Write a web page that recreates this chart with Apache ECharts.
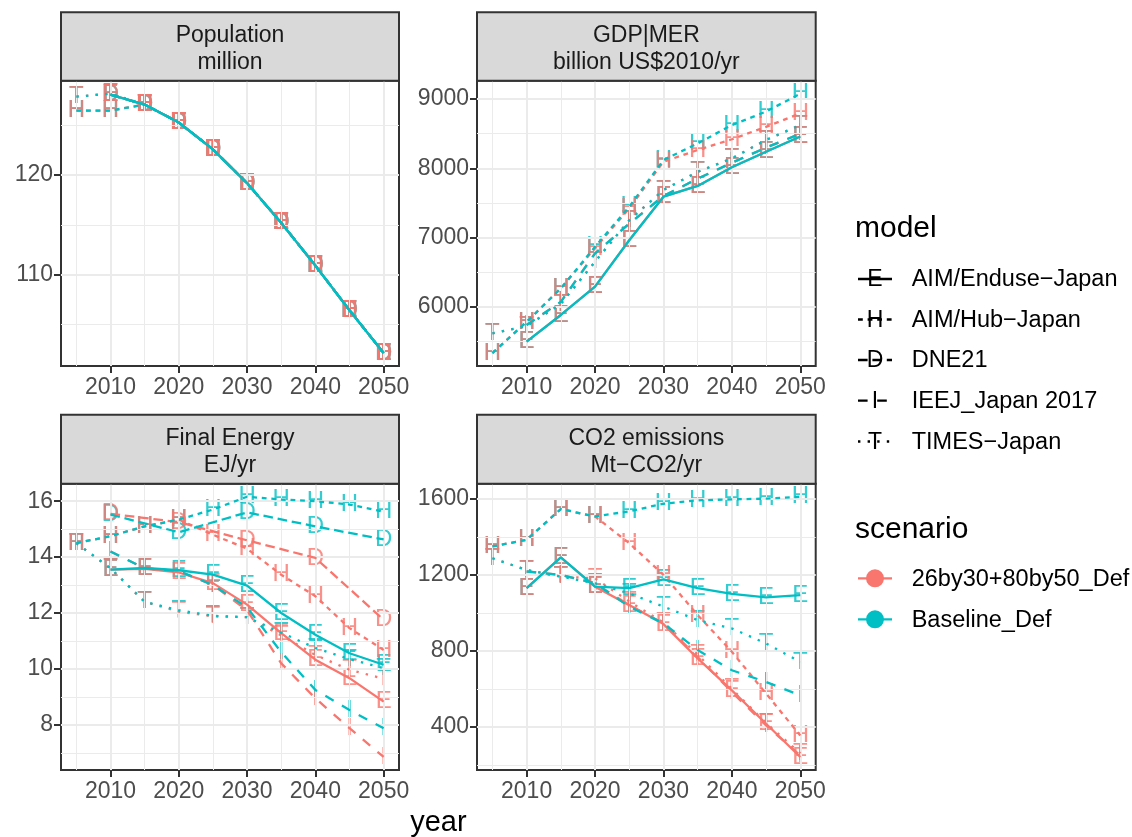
<!DOCTYPE html>
<html>
<head>
<meta charset="utf-8">
<script src="https://cdn.jsdelivr.net/npm/echarts@6/dist/echarts.min.js"></script>
<style>html,body{margin:0;padding:0;background:#fff}#chart{width:1132px;height:837px}</style>
</head>
<body>
<div id="chart"></div>
<script>
// ---- data ----------------------------------------------------------------
var years = [2005, 2010, 2015, 2020, 2025, 2030, 2035, 2040, 2045, 2050];
var models = ['AIM/Enduse\u2212Japan', 'AIM/Hub\u2212Japan', 'DNE21', 'IEEJ_Japan 2017', 'TIMES\u2212Japan'];
var letters = ['E', 'H', 'D', 'I', 'T'];
var scenarios = ['26by30+80by50_Def', 'Baseline_Def'];

// Population (million): [policy, baseline]
var popPolE  = [null, 128.1, 127.1, 125.3, 122.6, 119.2, 115.2, 110.9, 106.4, 102.1];
var popBaseE = [null, 128.1, 127.1, 125.3, 122.6, 119.2, 115.2, 110.9, 106.4, 102.1];
var popPolH  = [126.5, 126.5, 127.1, 125.3, 122.6, 119.2, 115.2, 110.9, 106.4, 102.1];
var popBaseH = [126.5, 126.5, 127.1, 125.3, 122.6, 119.2, 115.2, 110.9, 106.4, 102.1];
var popPolD  = [null, 128.1, 127.1, 125.3, 122.6, 119.2, 115.2, 110.9, 106.4, 102.1];
var popBaseD = [null, 128.1, 127.1, 125.3, 122.6, 119.2, 115.2, 110.9, 106.4, 102.1];
var popPolI  = [null, 128.1, 127.1, 125.3, 122.6, 119.2, 115.2, 110.9, 106.4, 102.1];
var popBaseI = [null, 128.1, 127.1, 125.3, 122.6, 119.2, 115.2, 110.9, 106.4, 102.1];
var popPolT  = [127.9, 128.2, 127.1, 125.3, 122.6, 119.2, 115.2, 110.9, 106.4, 102.1];
var popBaseT = [127.9, 128.2, 127.1, 125.3, 122.6, 119.2, 115.2, 110.9, 106.4, 102.1];

// GDP|MER (billion US$2010/yr)
var gdpPolE  = [null, 5495, 5880, 6290, 6960, 7590, 7745, 8015, 8240, 8460];
var gdpBaseE = [null, 5495, 5880, 6290, 6960, 7590, 7745, 8015, 8240, 8460];
var gdpPolH  = [5330, 5780, 6265, 6845, 7420, 8095, 8265, 8420, 8600, 8795];
var gdpBaseH = [5330, 5780, 6265, 6865, 7445, 8120, 8360, 8625, 8820, 9079];
var gdpPolI  = [null, 5735, 6070, 6770, 7200, 7600, 7850, 8080, 8300, 8500];
var gdpBaseI = [null, 5735, 6070, 6770, 7200, 7600, 7850, 8080, 8300, 8500];
var gdpPolT  = [5615, 5720, 6040, 6650, 7250, 7686, 7950, 8143, 8410, 8625];
var gdpBaseT = [5615, 5720, 6040, 6650, 7250, 7686, 7950, 8143, 8410, 8625];

// Final Energy (EJ/yr)
var fePolE  = [null, 13.55, 13.58, 13.45, 13.07, 12.3, 11.28, 10.33, 9.67, 8.83];
var feBaseE = [null, 13.55, 13.61, 13.53, 13.37, 12.98, 12.0, 11.22, 10.56, 10.15];
var fePolH  = [14.5, 14.75, 15.1, 15.34, 14.8, 14.3, 13.37, 12.6, 11.46, 10.68];
var feBaseH = [14.5, 14.75, 15.1, 15.34, 15.7, 16.16, 16.06, 16.0, 15.88, 15.62];
var fePolD  = [null, 15.55, null, 15.25, null, 14.6, null, 13.97, null, 11.76];
var feBaseD = [null, 15.52, null, 14.89, null, 15.6, null, 15.1, null, 14.63];
var fePolI  = [null, 14.2, 13.6, 13.5, 13.0, 12.1, 10.2, 8.95, 7.88, 6.85];
var feBaseI = [null, 14.2, 13.6, 13.5, 13.0, 12.2, 10.6, 9.25, 8.53, 7.88];
var fePolT  = [14.5, 13.6, 12.4, 12.05, 11.88, 11.85, 11.2, 10.5, 9.97, 9.65];
var feBaseT = [14.5, 13.6, 12.4, 12.1, 11.9, 11.85, 11.3, 10.75, 10.35, 10.03];

// CO2 emissions (Mt-CO2/yr)
var co2PolE  = [null, 1130, 1293, 1138, 1041, 941, 760, 592, 416, 241];
var co2BaseE = [null, 1130, 1293, 1138, 1130, 1177, 1130, 1100, 1082, 1094];
var co2PolH  = [1350, 1385, 1547, 1508, 1367, 1200, 989, 795, 575, 354];
var co2BaseH = [1350, 1385, 1547, 1508, 1535, 1575, 1593, 1598, 1602, 1612];
var co2PolI  = [null, 1218, 1200, 1156, 1040, 945, 768, 583, 407, 249];
var co2BaseI = [null, 1218, 1200, 1156, 1033, 945, 804, 698, 636, 566];
var co2PolT  = [1288, 1226, 1191, 1182, 1060, 950, 780, 600, 420, 260];
var co2BaseT = [1288, 1226, 1191, 1156, 1103, 1033, 962, 918, 839, 742];

// tick labels / gridlines
var xMajor = [2010, 2020, 2030, 2040, 2050];
var xMinor = [2005, 2015, 2025, 2035, 2045];
var popTicks = [110, 120],              popMinor = [105, 115, 125];
var gdpTicks = [6000, 7000, 8000, 9000], gdpMinor = [5500, 6500, 7500, 8500];
var feTicks  = [8, 10, 12, 14, 16],     feMinor  = [7, 9, 11, 13, 15];
var co2Ticks = [400, 800, 1200, 1600],  co2Minor = [200, 600, 1000, 1400];

// ---- styling ---------------------------------------------------------------
var FONT = 'Liberation Sans, Arial, sans-serif';
var colors = ['#F8766D', '#00BFC4'];
var U = 2.4;
var dashes = ['solid', [2 * U, 2 * U], [4 * U, 2 * U], [4 * U, 4 * U], [1 * U, 3 * U]];

var panels = [
  { strip: 'Population\nmillion', ticks: popTicks, minor: popMinor,
    rows: [[popPolE, popBaseE], [popPolH, popBaseH], [popPolD, popBaseD], [popPolI, popBaseI], [popPolT, popBaseT]],
    box: { left: 61, top: 80.7, width: 338, height: 285.3 }, stripTop: 12.3 },
  { strip: 'GDP|MER\nbillion US$2010/yr', ticks: gdpTicks, minor: gdpMinor,
    rows: [[gdpPolE, gdpBaseE], [gdpPolH, gdpBaseH], null, [gdpPolI, gdpBaseI], [gdpPolT, gdpBaseT]],
    box: { left: 477, top: 80.7, width: 338.7, height: 285.3 }, stripTop: 12.3 },
  { strip: 'Final Energy\nEJ/yr', ticks: feTicks, minor: feMinor,
    rows: [[fePolE, feBaseE], [fePolH, feBaseH], [fePolD, feBaseD], [fePolI, feBaseI], [fePolT, feBaseT]],
    box: { left: 61, top: 483.7, width: 338, height: 286.3 }, stripTop: 414.7 },
  { strip: 'CO2 emissions\nMt\u2212CO2/yr', ticks: co2Ticks, minor: co2Minor,
    rows: [[co2PolE, co2BaseE], [co2PolH, co2BaseH], null, [co2PolI, co2BaseI], [co2PolT, co2BaseT]],
    box: { left: 477, top: 483.7, width: 338.7, height: 286.3 }, stripTop: 414.7 }
];

function pairs(arr) {
  var out = [];
  years.forEach(function (y, i) { if (arr[i] != null) out.push([y, arr[i]]); });
  return out;
}

function extent(rows) {
  var lo = Infinity, hi = -Infinity;
  rows.forEach(function (r) {
    if (!r) return;
    r.forEach(function (a) { a.forEach(function (v) { if (v != null) { lo = Math.min(lo, v); hi = Math.max(hi, v); } }); });
  });
  var pad = (hi - lo) * 0.05;
  return [lo - pad, hi + pad];
}

var xSpan = years[years.length - 1] - years[0];
var xMin = years[0] - xSpan * 0.05, xMax = years[years.length - 1] + xSpan * 0.05;

var grid = [], xAxis = [], yAxis = [], series = [], graphic = [];

panels.forEach(function (p, pi) {
  grid.push({ left: p.box.left, top: p.box.top, width: p.box.width, height: p.box.height,
    show: true, borderColor: '#333333', borderWidth: 2, backgroundColor: '#fff' });

  var tickStyle = { show: true, length: 7, lineStyle: { color: '#333333', width: 2 } };
  xAxis.push({ gridIndex: pi, type: 'value', min: xMin, max: xMax,
    axisLine: { show: false, onZero: false },
    axisTick: Object.assign({ customValues: xMajor }, tickStyle),
    axisLabel: { customValues: xMajor, color: '#4D4D4D', fontSize: 23, fontFamily: FONT, margin: 10,
      formatter: function (v) { return String(v); } },
    splitLine: { show: false } });

  var ext = extent(p.rows);
  yAxis.push({ gridIndex: pi, type: 'value', min: ext[0], max: ext[1],
    axisLine: { show: false, onZero: false },
    axisTick: Object.assign({ customValues: p.ticks }, tickStyle),
    axisLabel: { customValues: p.ticks, color: '#4D4D4D', fontSize: 23, fontFamily: FONT, margin: 8,
      formatter: function (v) { return String(v); } },
    splitLine: { show: false } });

  // grid lines (theme_bw)
  var gl = [];
  xMinor.forEach(function (v) { gl.push({ xAxis: v, lineStyle: { width: 1 } }); });
  p.minor.forEach(function (v) { gl.push({ yAxis: v, lineStyle: { width: 1 } }); });
  xMajor.forEach(function (v) { gl.push({ xAxis: v, lineStyle: { width: 2 } }); });
  p.ticks.forEach(function (v) { gl.push({ yAxis: v, lineStyle: { width: 2 } }); });
  series.push({ type: 'line', xAxisIndex: pi, yAxisIndex: pi, data: [], z: 1, silent: true,
    markLine: { silent: true, animation: false, symbol: ['none', 'none'], label: { show: false },
      lineStyle: { color: '#EBEBEB', type: 'solid' }, data: gl } });

  // points: baseline first, policy on top
  [1, 0].forEach(function (s) {
    p.rows.forEach(function (r, mi) {
      if (!r) return;
      series.push({ type: 'scatter', name: scenarios[s], xAxisIndex: pi, yAxisIndex: pi, z: 3 + (1 - s), silent: true,
        symbol: 'circle', symbolSize: 1, itemStyle: { color: 'rgba(0,0,0,0)' },
        label: { show: true, position: 'inside', formatter: letters[mi], color: colors[s],
          fontSize: 24, fontFamily: FONT, textBorderWidth: 0 },
        data: pairs(r[s]) });
    });
  });

  // lines: policy first, baseline on top
  [0, 1].forEach(function (s) {
    p.rows.forEach(function (r, mi) {
      if (!r) return;
      series.push({ type: 'line', name: models[mi], xAxisIndex: pi, yAxisIndex: pi, z: 5 + s, silent: true,
        showSymbol: false, symbol: 'none',
        lineStyle: { color: colors[s], width: 2.3, type: dashes[mi], cap: 'butt' },
        data: pairs(r[s]) });
    });
  });

  // facet strip
  graphic.push({ type: 'rect', shape: { x: p.box.left, y: p.stripTop, width: p.box.width, height: p.box.top - p.stripTop },
    style: { fill: '#D9D9D9', stroke: '#333333', lineWidth: 2 }, z: 10 });
  graphic.push({ type: 'text', x: p.box.left + p.box.width / 2, y: (p.stripTop + p.box.top) / 2 + 3, z: 11,
    style: { text: p.strip, font: '23px ' + FONT, fill: '#1A1A1A', lineHeight: 27,
      align: 'center', verticalAlign: 'middle', textAlign: 'center', textVerticalAlign: 'middle' } });
});

// x axis title
graphic.push({ type: 'text', x: 438.4, y: 823, style: { text: 'year', font: '29px ' + FONT, fill: '#000',
  align: 'center', verticalAlign: 'middle', textAlign: 'center', textVerticalAlign: 'middle' } });

// legends
function legendText(x, y, txt, size) {
  return { type: 'text', x: x, y: y, style: { text: txt, font: size + 'px ' + FONT, fill: '#000',
    align: 'left', verticalAlign: 'middle', textAlign: 'left', textVerticalAlign: 'middle' } };
}
graphic.push(legendText(855, 229, 'model', 30));
var modelRows = [279, 319.5, 360, 400.7, 441.5];
models.forEach(function (m, i) {
  var y = modelRows[i];
  graphic.push({ type: 'line', shape: { x1: 858, y1: y, x2: 892, y2: y },
    style: { stroke: '#000', lineWidth: 2.3, lineDash: dashes[i] === 'solid' ? null : dashes[i] } });
  graphic.push({ type: 'text', x: 875, y: y + 1, style: { text: letters[i], font: '23px ' + FONT, fill: '#000',
    align: 'center', verticalAlign: 'middle', textAlign: 'center', textVerticalAlign: 'middle' } });
  graphic.push(legendText(911.7, y + 1, m, 23.5));
});
graphic.push(legendText(855, 530, 'scenario', 30));
var scenRows = [578.3, 619.3];
scenarios.forEach(function (s, i) {
  var y = scenRows[i];
  graphic.push({ type: 'line', shape: { x1: 858, y1: y, x2: 892, y2: y }, style: { stroke: colors[i], lineWidth: 2.3 } });
  graphic.push({ type: 'circle', shape: { cx: 875, cy: y, r: 9 }, style: { fill: colors[i] } });
  graphic.push(legendText(911.7, y + 1, s, 23.5));
});

var chart = echarts.init(document.getElementById('chart'), null, { renderer: 'canvas' });
chart.setOption({
  animation: false,
  backgroundColor: '#fff',
  grid: grid, xAxis: xAxis, yAxis: yAxis, series: series, graphic: graphic
});
</script>
</body>
</html>
